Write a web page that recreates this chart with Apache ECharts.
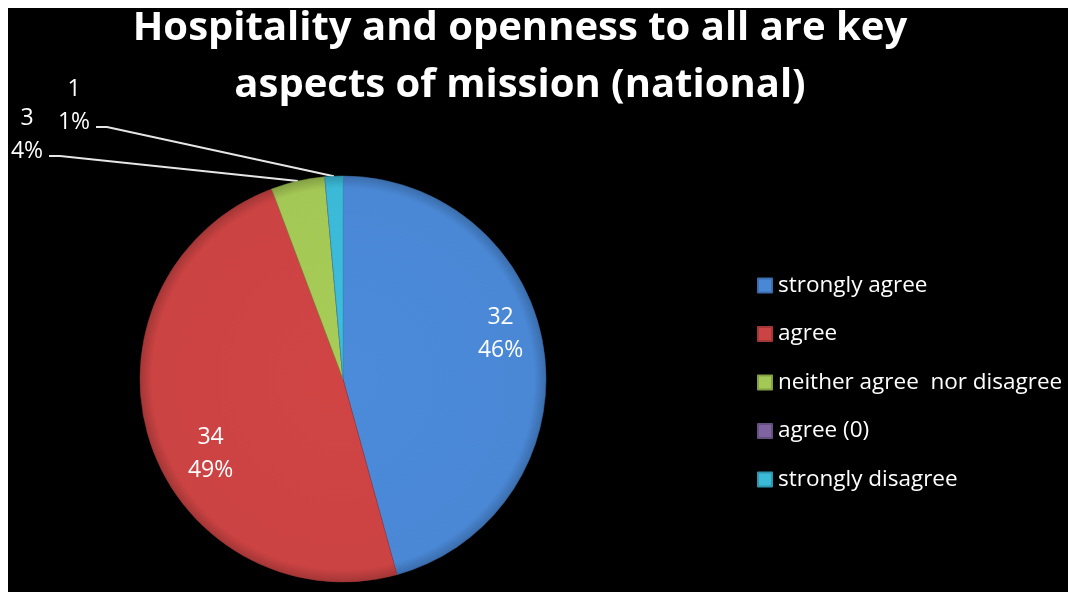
<!DOCTYPE html>
<html>
<head>
<meta charset="utf-8">
<script src="https://cdn.jsdelivr.net/npm/echarts@6/dist/echarts.min.js"></script>
<style>
  html, body { margin: 0; padding: 0; background: #fff; }
  #chart { width: 1068px; height: 592px; }
</style>
</head>
<body>
<div id="chart"></div>
<script>
// Survey answers, national totals
const categories = ['strongly agree', 'agree', 'neither agree  nor disagree', 'agree (0)', 'strongly disagree'];
const counts = [32, 34, 3, 0, 1];
const sliceColors = ['#4A88D6', '#CC4343', '#A4C855', '#8064A2', '#3BBAD8'];
const titleLines = ['Hospitality and openness to all are key', 'aspects of mission (national)'];

const FONT = '"Open Sans", Lato, sans-serif';
const CX = 343, CY = 379, R = 203;

function shade(hex, f) {
  const n = parseInt(hex.slice(1), 16);
  const c = [(n >> 16) & 255, (n >> 8) & 255, n & 255].map(v => Math.max(0, Math.min(255, Math.round(v * f))));
  return 'rgb(' + c.join(',') + ')';
}

// Bevelled look: flat body with a darker rim near the outer edge
function sliceFill(hex) {
  return new echarts.graphic.RadialGradient(CX, CY, R, [
    { offset: 0, color: shade(hex, 1.02) },
    { offset: 0.94, color: hex },
    { offset: 1, color: shade(hex, 0.8) }
  ], true);
}

// Where each label sits relative to its default spot
const insideShift = { 0: [54, -31], 1: [-33, 43] };
const outsideSpot = {
  2: { x: 27, y: 135, elbow: [60, 156], end: [49, 156] },
  4: { x: 74, y: 106, elbow: [107, 127], end: [96, 127] }
};

const pieData = categories.map((name, i) => {
  const item = {
    name: name,
    value: counts[i],
    itemStyle: { color: sliceFill(sliceColors[i]), borderColor: shade(sliceColors[i], 0.8), borderWidth: 0.5 }
  };
  if (counts[i] === 0) {
    item.label = { show: false };
    item.labelLine = { show: false };
  } else if (i === 0 || i === 1) {
    item.label = { position: 'inside' };
    item.labelLine = { show: false };
  } else {
    item.label = { position: 'outside' };
    item.labelLine = { show: true };
  }
  return item;
});

const chart = echarts.init(document.getElementById('chart'), null, { renderer: 'canvas' });

chart.setOption({
  backgroundColor: '#ffffff',
  animation: false,
  graphic: [
    { type: 'rect', z: -10, shape: { x: 8, y: 8, width: 1060, height: 584 }, style: { fill: '#000000' } },
    { type: 'text', style: { x: 520, y: 29, text: titleLines[0], fill: '#ffffff', font: 'bold 40px ' + FONT, textAlign: 'center', textVerticalAlign: 'middle' } },
    { type: 'text', style: { x: 520, y: 86, text: titleLines[1], fill: '#ffffff', font: 'bold 40px ' + FONT, textAlign: 'center', textVerticalAlign: 'middle' } }
  ],
  legend: {
    orient: 'vertical',
    left: 752,
    top: 269,
    itemWidth: 14,
    itemHeight: 14,
    itemGap: 25.5,
    icon: 'rect',
    data: categories.map((c, i) => ({ name: c, itemStyle: { color: sliceColors[i] } })),
    textStyle: { color: '#ffffff', fontSize: 22.5, fontFamily: FONT, lineHeight: 20, padding: [0, 0, 0, 1] }
  },
  series: [{
    type: 'pie',
    center: [CX, CY],
    radius: R,
    startAngle: 90,
    clockwise: true,
    percentPrecision: 0,
    avoidLabelOverlap: false,
    data: pieData,
    label: {
      show: true,
      formatter: '{c}\n{d}%',
      color: '#ffffff',
      fontSize: 23,
      fontFamily: FONT,
      lineHeight: 33,
      align: 'center'
    },
    labelLine: {
      lineStyle: { color: '#e6e6e6', width: 2 },
      length: 10,
      length2: 10
    },
    labelLayout: function (params) {
      const i = params.dataIndex;
      if (insideShift[i]) {
        return { dx: insideShift[i][0], dy: insideShift[i][1] };
      }
      const spot = outsideSpot[i];
      if (spot && params.labelLinePoints) {
        const start = params.labelLinePoints[0];
        return {
          x: spot.x,
          y: spot.y,
          align: 'center',
          verticalAlign: 'middle',
          labelLinePoints: [start, spot.elbow, spot.end]
        };
      }
      return {};
    },
    emphasis: { disabled: true }
  }]
});
</script>
</body>
</html>
